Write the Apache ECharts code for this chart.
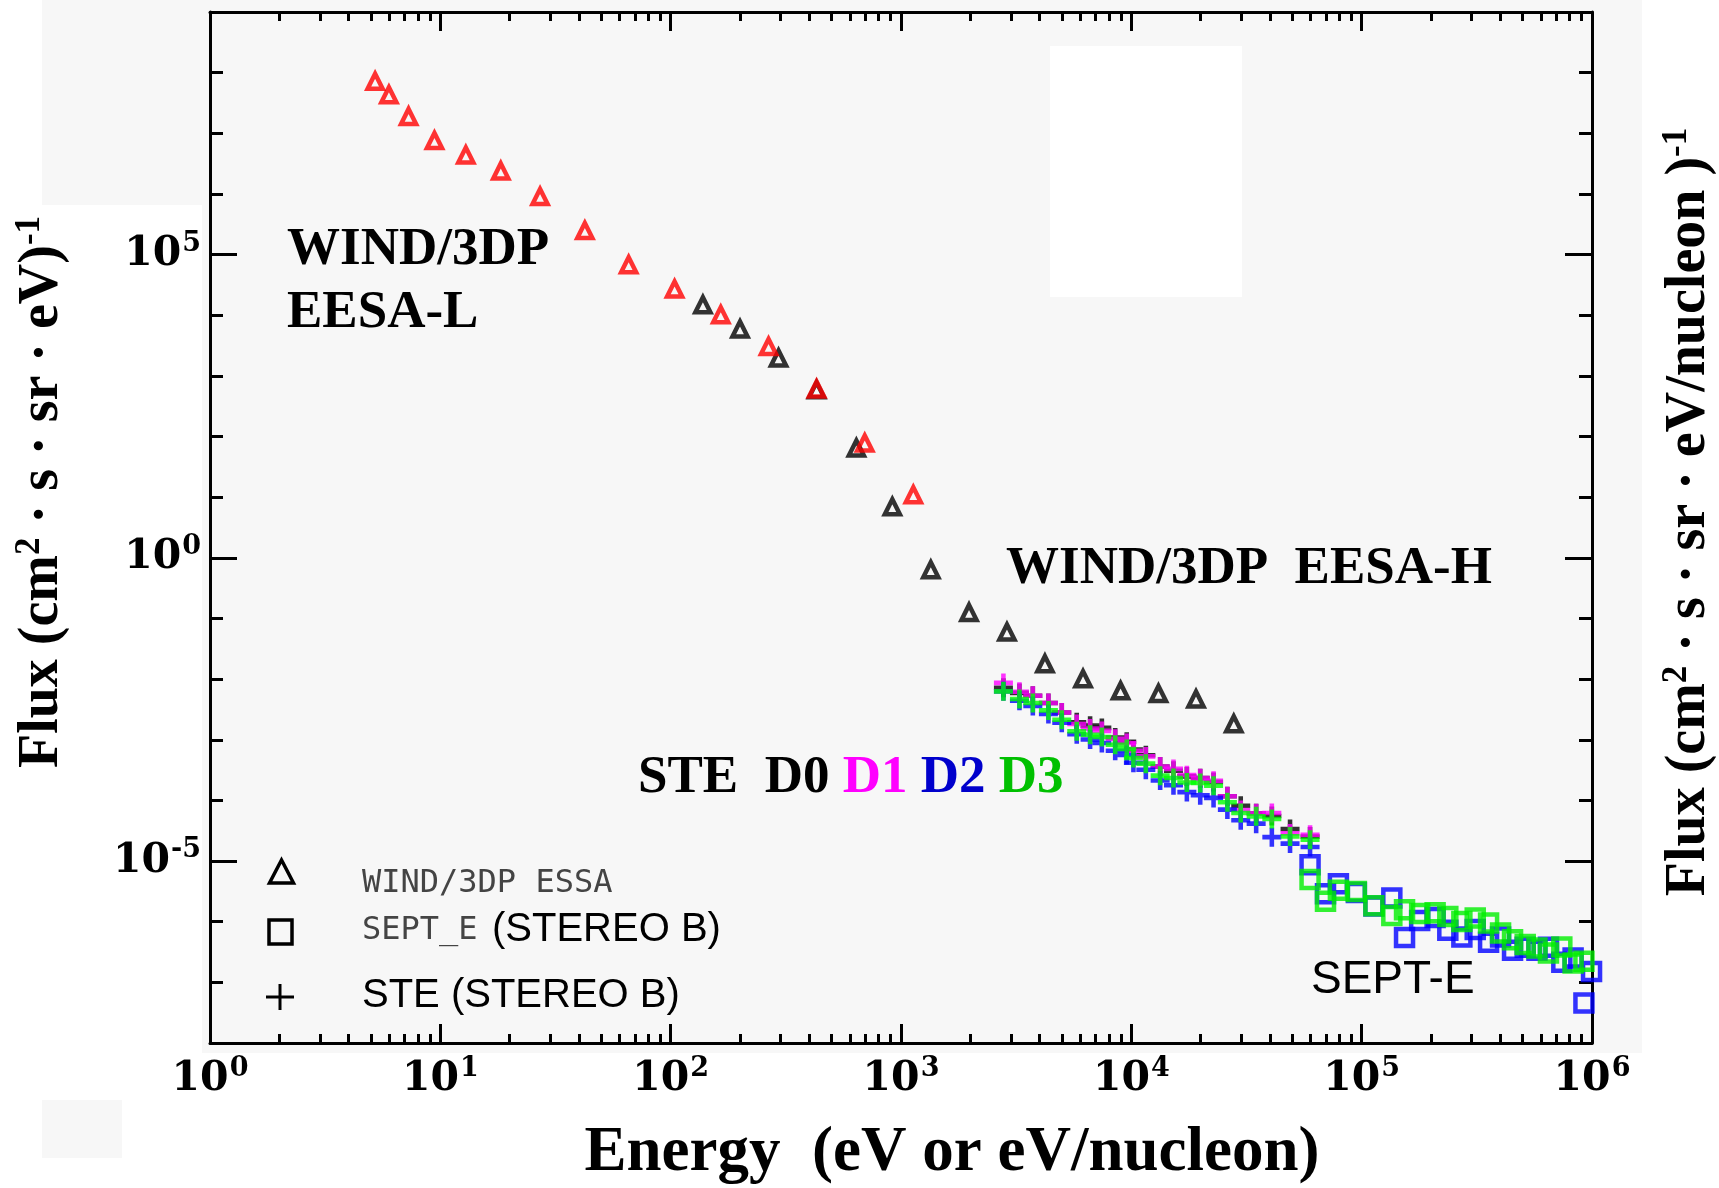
<!DOCTYPE html>
<html>
<head>
<meta charset="utf-8">
<script src="https://cdn.jsdelivr.net/npm/echarts@6/dist/echarts.min.js"></script>
<style>
  html, body { margin: 0; padding: 0; background: #ffffff; }
  #chart { width: 1719px; height: 1188px; }
</style>
</head>
<body>
<div id="chart"></div>
<script>
// WIND/3DP electrostatic analysers: EESA-L (red) and EESA-H (black)
const eesaLowEnergy = [5.21, 5.98, 7.28, 9.43, 12.9, 18.3, 27.1, 42.4, 65.7, 104, 165, 266, 430, 696, 1131];
const eesaLowFlux = [7.2e7, 4.33e7, 1.9e7, 7.6e6, 4.4e6, 2.4e6, 9.1e5, 2.5e5, 6.8e4, 2.7e4, 1.02e4, 3.06e3, 608, 78, 11];
const eesaHighEnergy = [138, 200, 294, 430, 640, 917, 1347, 1974, 2884, 4216, 6170, 8980, 13115, 19090, 27840];
const eesaHighFlux = [1.49e4, 5.93e3, 1.97e3, 592, 64.7, 6.97, 0.637, 0.126, 0.0598, 0.018, 0.0101, 0.0064, 0.0058, 0.0047, 0.00183];

// STEREO B STE, detectors D0..D3
const steEnergy = [2784, 3268, 3735, 4365, 4989, 5794, 6622, 7447, 8511, 9550, 10210, 11560, 13340, 15240, 17420, 19910, 22750, 26120, 29850, 34830, 40740, 48870, 59700];
const steD0Flux = [7.21e-3, 5.93e-3, 5.33e-3, 4.03e-3, 2.82e-3, 1.95e-3, 1.71e-3, 1.57e-3, 1.09e-3, 9.29e-4, 6.92e-4, 5.57e-4, 3.61e-4, 3.09e-4, 2.49e-4, 2.33e-4, 2.01e-4, 1.17e-4, 8.18e-5, 6.12e-5, 5.55e-5, 3.37e-5, 2.53e-5];
const steD1Flux = [8.67e-3, 6.21e-3, 5.33e-3, 4.03e-3, 2.82e-3, 1.82e-3, 1.53e-3, 1.40e-3, 1.04e-3, 8.87e-4, 6.61e-4, 5.32e-4, 3.61e-4, 3.31e-4, 2.61e-4, 2.33e-4, 2.10e-4, 1.17e-4, 6.97e-5, 6.12e-5, 6.22e-5, 2.86e-5, 2.71e-5];
const steD2Flux = [6.28e-3, 4.40e-3, 3.61e-3, 2.66e-3, 1.91e-3, 1.23e-3, 1.01e-3, 8.83e-4, 6.59e-4, 5.60e-4, 4.17e-4, 3.21e-4, 2.13e-4, 1.78e-4, 1.37e-4, 1.22e-4, 1.10e-4, 7.05e-5, 4.71e-5, 4.14e-5, 2.48e-5, 1.94e-5, 1.71e-5];
const steD3Flux = [6.28e-3, 4.71e-3, 4.05e-3, 3.05e-3, 2.14e-3, 1.38e-3, 1.21e-3, 1.11e-3, 8.3e-4, 7.05e-4, 5.0e-4, 4.04e-4, 2.56e-4, 2.34e-4, 1.98e-4, 1.94e-4, 1.75e-4, 9.3e-5, 6.2e-5, 5.46e-5, 4.94e-5, 2.55e-5, 2.25e-5];

// STEREO B SEPT_E, two look directions
const septEnergy = [59700, 69660, 79250, 94840, 113000, 135200, 153500, 178600, 208400, 236600, 272300, 311200, 355600, 400900, 451900, 512900, 576800, 647100, 739600, 827900, 922600, 995400];
const septBlueFlux = [8.71e-6, 2.88e-6, 4.22e-6, 3.02e-6, 1.82e-6, 2.45e-6, 5.50e-7, 1.05e-6, 1.17e-6, 7.24e-7, 5.62e-7, 7.41e-7, 4.57e-7, 5.62e-7, 3.39e-7, 3.80e-7, 3.39e-7, 3.80e-7, 2.14e-7, 2.51e-7, 4.57e-8, 1.51e-7];
const septGreenFlux = [4.97e-6, 2.17e-6, 3.29e-6, 3.16e-6, 1.84e-6, 1.26e-6, 1.58e-6, 1.36e-6, 1.40e-6, 1.22e-6, 1.01e-6, 1.15e-6, 9.53e-7, 6.52e-7, 5.06e-7, 4.19e-7, 3.69e-7, 3.05e-7, 3.83e-7, 2.08e-7, 2.22e-7, null];

// Axis ticks and labels
const xDecades = [1, 10, 100, 1000, 1e4, 1e5, 1e6];
const yLabelled = [1e-5, 1, 1e5];
const yDecades = [1e-8, 1e-7, 1e-6, 1e-5, 1e-4, 1e-3, 1e-2, 1e-1, 1, 10, 100, 1e3, 1e4, 1e5, 1e6, 1e7, 1e8, 1e9];
const xMinor = [];
for (let d = 0; d < 6; d++) {
  for (let m = 2; m <= 9; m++) xMinor.push(m * Math.pow(10, d));
}

const pairs = (xs, ys) => xs.map((x, i) => [x, ys[i]]).filter(p => p[1] != null);

const tickFont = 'DejaVu Serif';
const tickRich = {
  b: { fontFamily: tickFont, fontWeight: 'bold', fontSize: 41, color: '#000' },
  s: { fontFamily: tickFont, fontWeight: 'bold', fontSize: 27, color: '#000', padding: [0, 0, 22, 1] }
};
function powLabel(v) {
  const e = Math.round(Math.log10(v));
  return '{b|10}{s|' + e + '}';
}

function logAxis(range, position, ticks, tickLen, withLine, withLabels, margin) {
  return {
    type: 'log', logBase: 10, min: range[0], max: range[1], position: position,
    axisLine: { show: withLine, onZero: false, lineStyle: { color: '#000', width: 3 } },
    axisTick: { show: true, inside: true, length: tickLen, customValues: ticks, lineStyle: { color: '#000', width: 3 } },
    axisLabel: withLabels
      ? { show: true, customValues: ticks, formatter: powLabel, rich: tickRich, margin: margin }
      : { show: false },
    splitLine: { show: false },
    minorTick: { show: false },
    minorSplitLine: { show: false }
  };
}
const xRange = [1, 1e6];
const yRange = [1e-8, 1e9];

const crossPath = 'path://M3.8,0H6.2V3.8H10V6.2H6.2V10H3.8V6.2H0V3.8H3.8Z';

function triSeries(name, xs, ys, color) {
  return {
    name: name, type: 'scatter', xAxisIndex: 0, yAxisIndex: 0,
    data: pairs(xs, ys), symbol: 'triangle', symbolSize: 15,
    itemStyle: { color: 'none', borderColor: color, borderWidth: 4.5 },
    animation: false
  };
}
function crossSeries(name, xs, ys, color) {
  return {
    name: name, type: 'scatter', xAxisIndex: 0, yAxisIndex: 0,
    data: pairs(xs, ys), symbol: crossPath, symbolSize: 19,
    itemStyle: { color: color }, animation: false
  };
}
function squareSeries(name, xs, ys, color) {
  return {
    name: name, type: 'scatter', xAxisIndex: 0, yAxisIndex: 0,
    data: pairs(xs, ys), symbol: 'rect', symbolSize: 17,
    itemStyle: { color: 'none', borderColor: color, borderWidth: 4.5 },
    animation: false
  };
}

function label(text, x, y, size, extra) {
  return Object.assign({
    type: 'text', x: x, y: y, silent: true,
    style: Object.assign({
      text: text, fontSize: size, fontFamily: 'Liberation Serif', fontWeight: 'bold',
      fill: '#000', align: 'left', verticalAlign: 'middle'
    }, (extra && extra.style) || {})
  }, (extra && extra.el) || {});
}

const supRich = {
  sup: { fontSize: 35, fontFamily: 'Liberation Serif', fontWeight: 'bold', fill: '#000', padding: [0, 0, 27, 0] }
};
const annotRich = {
  k: { fontSize: 53, fontFamily: 'Liberation Serif', fontWeight: 'bold', fill: '#000' },
  m: { fontSize: 53, fontFamily: 'Liberation Serif', fontWeight: 'bold', fill: '#ff00ff' },
  b: { fontSize: 53, fontFamily: 'Liberation Serif', fontWeight: 'bold', fill: '#0000cc' },
  g: { fontSize: 53, fontFamily: 'Liberation Serif', fontWeight: 'bold', fill: '#00c000' }
};

const graphics = [
  // grey panel of the original plot
  { type: 'rect', z: -10, silent: true, shape: { x: 202, y: 0, width: 1440, height: 1053 }, style: { fill: '#f7f7f7' } },
  { type: 'rect', z: -10, silent: true, shape: { x: 42, y: 0, width: 168, height: 205 }, style: { fill: '#f7f7f7' } },
  { type: 'rect', z: -10, silent: true, shape: { x: 42, y: 1100, width: 80, height: 58 }, style: { fill: '#f7f7f7' } },
  { type: 'rect', z: -9, silent: true, shape: { x: 1050, y: 46, width: 192, height: 251 }, style: { fill: '#ffffff' } },

  // axis titles
  label('Flux (cm{sup|2} · s · sr · eV){sup|-1}', 43, 492, 56,
    { style: { align: 'center', rich: supRich }, el: { rotation: Math.PI / 2 } }),
  label('Flux (cm{sup|2} · s · sr · eV/nucleon ){sup|-1}', 1690, 512, 56,
    { style: { align: 'center', rich: supRich }, el: { rotation: Math.PI / 2 } }),
  label('Energy  (eV or eV/nucleon)', 952, 1154, 63, { style: { align: 'center' } }),

  // instrument annotations
  label('WIND/3DP', 287, 250, 53),
  label('EESA-L', 287, 313, 53),
  label('WIND/3DP  EESA-H', 1006, 569, 53),
  label('{k|STE  D0 }{m|D1 }{b|D2 }{g|D3}', 638, 778, 53, { style: { rich: annotRich } }),
  label('SEPT-E', 1311, 980, 46, { style: { fontFamily: 'Liberation Sans', fontWeight: 'normal' } }),

  // legend
  { type: 'polygon', silent: true, shape: { points: [[281.5, 860], [269.5, 883], [293.5, 883]] },
    style: { fill: 'none', stroke: '#000', lineWidth: 3.5 } },
  { type: 'rect', silent: true, shape: { x: 269, y: 920, width: 23, height: 24 },
    style: { fill: 'none', stroke: '#000', lineWidth: 3.5 } },
  { type: 'line', silent: true, shape: { x1: 266, y1: 997, x2: 294, y2: 997 }, style: { stroke: '#000', lineWidth: 3 } },
  { type: 'line', silent: true, shape: { x1: 280, y1: 984, x2: 280, y2: 1010 }, style: { stroke: '#000', lineWidth: 3 } },
  label('WIND/3DP ESSA', 362, 884, 32, { style: { fontFamily: 'DejaVu Sans Mono', fontWeight: 'normal', fill: '#444' } }),
  label('SEPT_E', 362, 931, 32, { style: { fontFamily: 'DejaVu Sans Mono', fontWeight: 'normal', fill: '#444' } }),
  label('(STEREO B)', 492, 930, 40, { style: { fontFamily: 'Liberation Sans', fontWeight: 'normal' } }),
  label('STE (STEREO B)', 362, 996, 40, { style: { fontFamily: 'Liberation Sans', fontWeight: 'normal' } })
];

const chart = echarts.init(document.getElementById('chart'), null, { renderer: 'canvas' });
chart.setOption({
  backgroundColor: '#ffffff',
  animation: false,
  grid: { left: 210, top: 12, right: 127, bottom: 145, containLabel: false },
  xAxis: [
    logAxis(xRange, 'bottom', xDecades, 19, true, true, 12),
    logAxis(xRange, 'bottom', xMinor, 9, false, false),
    logAxis(xRange, 'top', xDecades, 19, true, false),
    logAxis(xRange, 'top', xMinor, 9, false, false)
  ],
  yAxis: [
    logAxis(yRange, 'left', yLabelled, 27, true, true, 9),
    logAxis(yRange, 'left', yDecades, 13, false, false),
    logAxis(yRange, 'right', yLabelled, 27, true, false),
    logAxis(yRange, 'right', yDecades, 13, false, false)
  ],
  series: [
    triSeries('EESA-H', eesaHighEnergy, eesaHighFlux, '#000000'),
    triSeries('EESA-L', eesaLowEnergy, eesaLowFlux, '#ff0000'),
    crossSeries('STE D0', steEnergy, steD0Flux, '#000000'),
    crossSeries('STE D1', steEnergy, steD1Flux, '#ff00ff'),
    crossSeries('STE D2', steEnergy, steD2Flux, '#0000ff'),
    crossSeries('STE D3', steEnergy, steD3Flux, '#00ff00'),
    squareSeries('SEPT_E blue', septEnergy, septBlueFlux, '#0000ff'),
    squareSeries('SEPT_E green', septEnergy, septGreenFlux, '#00ee00')
  ],
  graphic: { elements: graphics }
});
</script>
</body>
</html>
